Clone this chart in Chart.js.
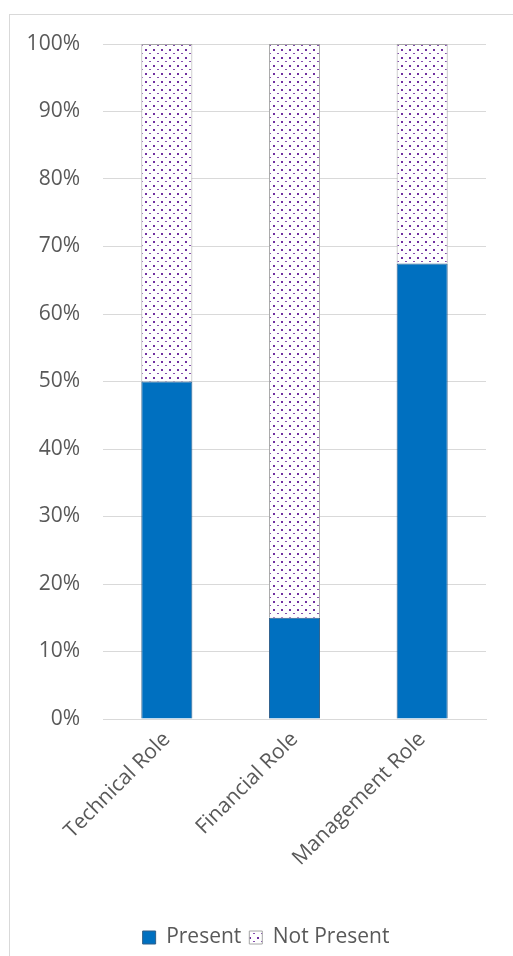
<!DOCTYPE html>
<html>
<head>
<meta charset="utf-8">
<script src="https://cdn.jsdelivr.net/npm/chart.js@4"></script>
<style>
    html, body { margin: 0; padding: 0; background: #fff; overflow: hidden; }
    #frame {
        position: absolute; left: 9px; top: 14px; width: 700px; height: 1100px;
        border: 1px solid #d9d9d9;
    }
    #wrap { position: absolute; left: 0; top: 0; width: 513px; height: 956px; }
</style>
</head>
<body>
<div id="frame"></div>
<div id="wrap"><canvas id="bar" width="513" height="956"></canvas></div>
<script>
const roles = ['Technical Role', 'Financial Role', 'Management Role'];
const present = [50, 15, 67.5];
const notPresent = [50, 85, 32.5];

// dotted fill for the "Not Present" part of each column
const makeDots = () => {
    const c = document.createElement('canvas');
    c.width = 8;
    c.height = 8;
    const g = c.getContext('2d');
    g.fillStyle = '#ffffff';
    g.fillRect(0, 0, 8, 8);
    g.fillStyle = '#7030a0';
    g.fillRect(1, 1, 2, 2);
    g.fillStyle = 'rgba(112, 48, 160, 0.85)';
    g.fillRect(5, 5, 2, 1);
    return document.getElementById('bar').getContext('2d').createPattern(c, 'repeat');
}

// legend sits centred under the whole frame, not just the plot
const shiftLegend = {
    id: 'shiftLegend',
    afterLayout: (chart) => {
        const l = chart.legend;
        l.left += 23;
        l.right += 23;
        l.top += 2;
        l.bottom += 2;
    }
}

const font = { family: '"Open Sans", sans-serif', size: 21 };

new Chart(document.getElementById('bar'), {
    type: 'bar',
    data: {
        labels: roles,
        datasets: [{
            label: 'Present',
            data: present,
            backgroundColor: '#0070c0',
            borderColor: '#2f5f8a',
            borderWidth: 1,
            barPercentage: 0.4,
            categoryPercentage: 1,
        }, {
            label: 'Not Present',
            data: notPresent,
            backgroundColor: makeDots(),
            borderColor: '#a6a6a6',
            borderWidth: 1,
            barPercentage: 0.4,
            categoryPercentage: 1,
        }]
    },
    options: {
        responsive: false,
        animation: false,
        layout: {
            padding: { top: 44, right: 27, left: 0, bottom: 0 }
        },
        scales: {
            x: {
                stacked: true,
                grid: { display: false },
                border: { color: '#d9d9d9' },
                ticks: { color: '#595959', font: font, minRotation: 45, maxRotation: 45, padding: 0 },
                afterFit: (s) => { s.height = 198; }
            },
            y: {
                stacked: true,
                min: 0,
                max: 100,
                grid: { color: '#d9d9d9', drawTicks: false },
                border: { display: false },
                ticks: {
                    stepSize: 10,
                    color: '#595959',
                    font: font,
                    padding: 23,
                    callback: (v) => v + '%'
                },
                afterFit: (s) => { s.width = 103; }
            }
        },
        plugins: {
            tooltip: { enabled: false },
            legend: {
                position: 'bottom',
                labels: { color: '#595959', font: font, boxWidth: 13, boxHeight: 13, padding: 8 }
            }
        }
    },
    plugins: [shiftLegend]
});
</script>
</body>
</html>
